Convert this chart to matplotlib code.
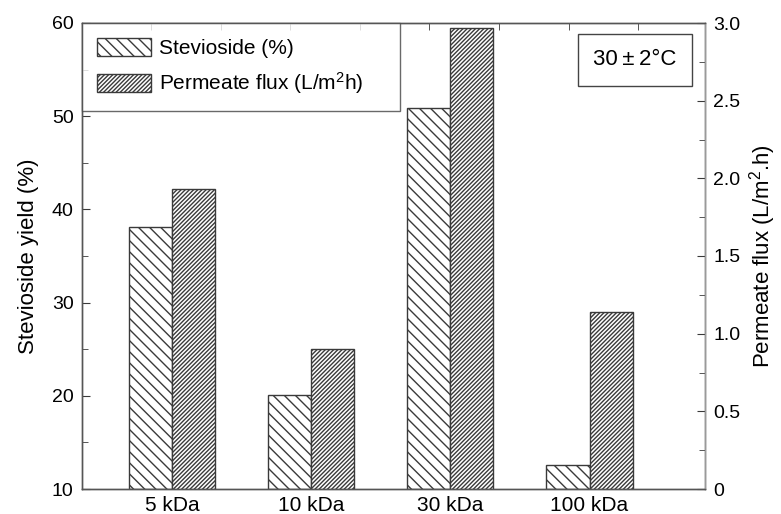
import numpy as np
import matplotlib
matplotlib.use("Agg")
import matplotlib.pyplot as plt
from matplotlib.patches import Rectangle
from matplotlib.ticker import MultipleLocator, FuncFormatter

plt.rcParams['font.family'] = ['Liberation Sans', 'DejaVu Sans']
plt.rcParams['mathtext.default'] = 'regular'
plt.rcParams['hatch.linewidth'] = 1.0

# data
membranes = ['5 kDa', '10 kDa', '30 kDa', '100 kDa']
stevioside_yield = [38.1, 20.1, 50.9, 12.6]     # %, left axis
permeate_flux = [1.93, 0.90, 2.97, 1.14]        # L/m2h, right axis

edge = '#3a3a3a'
fs = 14

fig = plt.figure(figsize=(7.81, 5.14), dpi=100)
ax = fig.add_axes([82 / 781, 25 / 514, 623 / 781, 466 / 514])
ax2 = ax.twinx()

x = np.arange(len(membranes))
w = 0.31

b1 = ax.bar(x - w / 2, np.array(stevioside_yield) - 10, w, bottom=10,
            color='white', edgecolor=edge, hatch='\\' * 3, linewidth=1.0,
            label='Stevioside (%)')
b2 = ax2.bar(x + w / 2, permeate_flux, w,
             color='white', edgecolor=edge, hatch='/' * 8, linewidth=1.0,
             label='Permeate flux (L/m$^2$h)')

ax.set_xlim(-0.647, 3.83)
ax.set_ylim(10, 60)
ax2.set_ylim(0, 3.0)

ax.set_xticks(x)
ax.set_xticklabels(membranes, fontsize=15)
ax.tick_params(axis='x', bottom=False, top=True, length=0, pad=5)
ax.set_xticks(np.arange(-0.15, 3.7, 0.5), minor=True)
ax.tick_params(axis='x', which='minor', bottom=False, top=True,
               direction='in', length=5, color=edge)

ax.yaxis.set_major_locator(MultipleLocator(10))
ax.yaxis.set_minor_locator(MultipleLocator(5))
ax.tick_params(axis='y', which='both', direction='in', labelsize=fs,
               color=edge)
ax.tick_params(axis='y', which='major', length=6, pad=6)
ax.tick_params(axis='y', which='minor', length=4)

ax2.yaxis.set_major_locator(MultipleLocator(0.5))
ax2.yaxis.set_minor_locator(MultipleLocator(0.25))
ax2.yaxis.set_major_formatter(FuncFormatter(lambda v, p: '0' if v == 0 else f'{v:.1f}'))
ax2.tick_params(axis='y', which='both', direction='in', labelsize=fs,
                color=edge)
ax2.tick_params(axis='y', which='major', length=6, pad=6)
ax2.tick_params(axis='y', which='minor', length=4)

for a in (ax, ax2):
    for s in a.spines.values():
        s.set_color('#555555')
        s.set_linewidth(1.0)
ax2.spines['right'].set_color('#9a9a9a')

ax.set_ylabel('Stevioside yield (%)', fontsize=16, labelpad=9)
ax2.set_ylabel('Permeate flux (L/m$^2$.h)', fontsize=16, labelpad=5)

leg = ax2.legend(handles=[b1, b2], loc='upper left',
                 bbox_to_anchor=(0, 0.81, 0.51, 0.19), mode='expand',
                 borderaxespad=0, fontsize=15, fancybox=False,
                 handlelength=2.6, handleheight=1.0, handletextpad=0.4,
                 labelspacing=0.6, borderpad=0.7)
leg.get_frame().set_edgecolor('#444444')
leg.get_frame().set_linewidth(1.0)

# temperature box
ax2.add_patch(Rectangle((0.796, 0.865), 0.183, 0.112, transform=ax2.transAxes,
                        facecolor='white', edgecolor='#444444', linewidth=1.0))
ax2.text(0.796 + 0.0915, 0.865 + 0.056, '30\u2009\u00b1\u20092\u00b0C',
         transform=ax2.transAxes, ha='center', va='center', fontsize=16)

fig.savefig('out.png', dpi=100)
